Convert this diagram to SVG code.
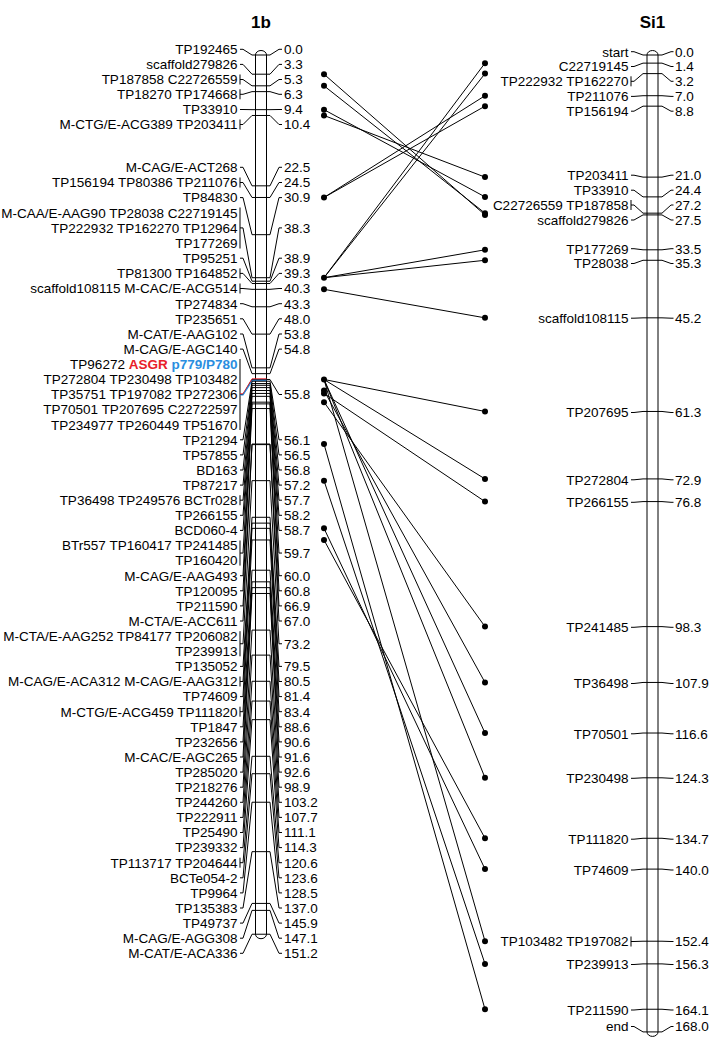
<svg xmlns="http://www.w3.org/2000/svg" width="709" height="1039" viewBox="0 0 709 1039">
<style>
text{font-family:"Liberation Sans",Arial,sans-serif;font-size:13.5px;fill:#000}
.l{text-anchor:end}
.n{text-anchor:start}
.t{font-size:17px;font-weight:bold;text-anchor:middle}
.c{fill:none;stroke:#000;stroke-width:1}
.chr{fill:#fff;stroke:#000;stroke-width:1}
.k{stroke:#000;stroke-width:1}
.d{fill:#000}
</style>
<rect width="709" height="1039" fill="#fff"/>
<g id="map-1b">
<text class="t" x="261" y="28">1b</text>
<path class="chr" d="M255.5,55 L255.5,934.2 A5.5,4.5 0 0 0 266.5,934.2 L266.5,55 A5.5,4.5 0 0 0 255.5,55 Z"/>
<g id="L0"><text class="l" x="237.5" y="54.1">TP192465</text><polyline class="c" points="240,49.3 243,49.3 252,55 270,55 279,49.3 282,49.3"/><text class="n" x="284" y="54.1">0.0</text></g>
<g id="L1"><text class="l" x="237.5" y="69.2">scaffold279826</text><polyline class="c" points="240,64.4 243,64.4 252,74.19 270,74.19 279,64.4 282,64.4"/><text class="n" x="284" y="69.2">3.3</text></g>
<g id="L2"><text class="l" x="237.5" y="84.3">TP187858 C22726559</text><line class="k" x1="240" y1="74.5" x2="240" y2="84.5"/><polyline class="c" points="240,79.5 243,79.5 252,85.82 270,85.82 279,79.5 282,79.5"/><text class="n" x="284" y="84.3">5.3</text></g>
<g id="L3"><text class="l" x="237.5" y="99.1">TP18270 TP174668</text><line class="k" x1="240" y1="89.3" x2="240" y2="99.3"/><polyline class="c" points="240,94.3 243,94.3 252,91.63 270,91.63 279,94.3 282,94.3"/><text class="n" x="284" y="99.1">6.3</text></g>
<g id="L4"><text class="l" x="237.5" y="114.3">TP33910</text><polyline class="c" points="240,109.5 243,109.5 252,109.66 270,109.66 279,109.5 282,109.5"/><text class="n" x="284" y="114.3">9.4</text></g>
<g id="L5"><text class="l" x="237.5" y="129.3">M-CTG/E-ACG389 TP203411</text><line class="k" x1="240" y1="119.5" x2="240" y2="129.5"/><polyline class="c" points="240,124.5 243,124.5 252,115.48 270,115.48 279,124.5 282,124.5"/><text class="n" x="284" y="129.3">10.4</text></g>
<g id="L6"><text class="l" x="237.5" y="172.1">M-CAG/E-ACT268</text><polyline class="c" points="240,167.3 243,167.3 252,185.84 270,185.84 279,167.3 282,167.3"/><text class="n" x="284" y="172.1">22.5</text></g>
<g id="L7"><text class="l" x="237.5" y="187.3">TP156194 TP80386 TP211076</text><line class="k" x1="240" y1="177.5" x2="240" y2="187.5"/><polyline class="c" points="240,182.5 243,182.5 252,197.47 270,197.47 279,182.5 282,182.5"/><text class="n" x="284" y="187.3">24.5</text></g>
<g id="L8"><text class="l" x="237.5" y="202.4">TP84830</text><polyline class="c" points="240,197.6 243,197.6 252,234.68 270,234.68 279,197.6 282,197.6"/><text class="n" x="284" y="202.4">30.9</text></g>
<g id="L9"><text class="l" x="237.5" y="217.6">M-CAA/E-AAG90 TP28038 C22719145</text><text class="l" x="237.5" y="232.7">TP222932 TP162270 TP12964</text><text class="l" x="237.5" y="247.9">TP177269</text><line class="k" x1="240" y1="207.5" x2="240" y2="248.5"/><polyline class="c" points="240,227.9 243,227.9 252,277.71 270,277.71 279,227.9 282,227.9"/><text class="n" x="284" y="232.7">38.3</text></g>
<g id="L10"><text class="l" x="237.5" y="263">TP95251</text><polyline class="c" points="240,258.2 243,258.2 252,281.2 270,281.2 279,258.2 282,258.2"/><text class="n" x="284" y="263">38.9</text></g>
<g id="L11"><text class="l" x="237.5" y="278.2">TP81300 TP164852</text><line class="k" x1="240" y1="268.4" x2="240" y2="278.4"/><polyline class="c" points="240,273.4 243,273.4 252,283.53 270,283.53 279,273.4 282,273.4"/><text class="n" x="284" y="278.2">39.3</text></g>
<g id="L12"><text class="l" x="237.5" y="293.3">scaffold108115 M-CAC/E-ACG514</text><line class="k" x1="240" y1="283.5" x2="240" y2="293.5"/><polyline class="c" points="240,288.5 243,288.5 252,289.34 270,289.34 279,288.5 282,288.5"/><text class="n" x="284" y="293.3">40.3</text></g>
<g id="L13"><text class="l" x="237.5" y="308.5">TP274834</text><polyline class="c" points="240,303.7 243,303.7 252,306.79 270,306.79 279,303.7 282,303.7"/><text class="n" x="284" y="308.5">43.3</text></g>
<g id="L14"><text class="l" x="237.5" y="323.6">TP235651</text><polyline class="c" points="240,318.8 243,318.8 252,334.12 270,334.12 279,318.8 282,318.8"/><text class="n" x="284" y="323.6">48.0</text></g>
<g id="L15"><text class="l" x="237.5" y="338.8">M-CAT/E-AAG102</text><polyline class="c" points="240,334 243,334 252,367.85 270,367.85 279,334 282,334"/><text class="n" x="284" y="338.8">53.8</text></g>
<g id="L16"><text class="l" x="237.5" y="353.9">M-CAG/E-AGC140</text><polyline class="c" points="240,349.1 243,349.1 252,373.66 270,373.66 279,349.1 282,349.1"/><text class="n" x="284" y="353.9">54.8</text></g>
<g id="L17"><text class="l" x="237.5" y="369.1">TP96272 <tspan fill="#e8202a" font-weight="bold">ASGR</tspan> <tspan fill="#2a8ee0" font-weight="bold">p779/P780</tspan></text><text class="l" x="237.5" y="384.2">TP272804 TP230498 TP103482</text><text class="l" x="237.5" y="399.3">TP35751 TP197082 TP272306</text><text class="l" x="237.5" y="414.4">TP70501 TP207695 C22722597</text><text class="l" x="237.5" y="429.5">TP234977 TP260449 TP51670</text><line class="k" x1="240" y1="359" x2="240" y2="430"/><polyline class="c" points="240,394.5 243,394.5 252,379.48 270,379.48 279,394.5 282,394.5"/><polyline fill="none" stroke="#e8202a" stroke-width="1" points="240,393.8 243,393.8 252,378.8 266.5,378.8"/><polyline fill="none" stroke="#2a8ee0" stroke-width="1.2" points="240,395 243,395 252.5,380.4 266.5,380.4"/><text class="n" x="284" y="399.3">55.8</text></g>
<g id="L18"><text class="l" x="237.5" y="444.6">TP21294</text><polyline class="c" points="240,439.8 243,439.8 252,381.22 270,381.22 279,439.8 282,439.8"/><text class="n" x="284" y="444.6">56.1</text></g>
<g id="L19"><text class="l" x="237.5" y="459.7">TP57855</text><polyline class="c" points="240,454.9 243,454.9 252,383.55 270,383.55 279,454.9 282,454.9"/><text class="n" x="284" y="459.7">56.5</text></g>
<g id="L20"><text class="l" x="237.5" y="474.8">BD163</text><polyline class="c" points="240,470 243,470 252,385.29 270,385.29 279,470 282,470"/><text class="n" x="284" y="474.8">56.8</text></g>
<g id="L21"><text class="l" x="237.5" y="489.9">TP87217</text><polyline class="c" points="240,485.1 243,485.1 252,387.62 270,387.62 279,485.1 282,485.1"/><text class="n" x="284" y="489.9">57.2</text></g>
<g id="L22"><text class="l" x="237.5" y="505">TP36498 TP249576 BCTr028</text><line class="k" x1="240" y1="495.2" x2="240" y2="505.2"/><polyline class="c" points="240,500.2 243,500.2 252,390.53 270,390.53 279,500.2 282,500.2"/><text class="n" x="284" y="505">57.7</text></g>
<g id="L23"><text class="l" x="237.5" y="520.1">TP266155</text><polyline class="c" points="240,515.3 243,515.3 252,393.43 270,393.43 279,515.3 282,515.3"/><text class="n" x="284" y="520.1">58.2</text></g>
<g id="L24"><text class="l" x="237.5" y="535.2">BCD060-4</text><polyline class="c" points="240,530.4 243,530.4 252,396.34 270,396.34 279,530.4 282,530.4"/><text class="n" x="284" y="535.2">58.7</text></g>
<g id="L25"><text class="l" x="237.5" y="550.3">BTr557 TP160417 TP241485</text><text class="l" x="237.5" y="565.4">TP160420</text><line class="k" x1="240" y1="540.5" x2="240" y2="565.6"/><polyline class="c" points="240,553.05 243,553.05 252,402.16 270,402.16 279,553.05 282,553.05"/><text class="n" x="284" y="557.85">59.7</text></g>
<g id="L26"><text class="l" x="237.5" y="580.5">M-CAG/E-AAG493</text><polyline class="c" points="240,575.7 243,575.7 252,403.89 270,403.89 279,575.7 282,575.7"/><text class="n" x="284" y="580.5">60.0</text></g>
<g id="L27"><text class="l" x="237.5" y="595.6">TP120095</text><polyline class="c" points="240,590.8 243,590.8 252,408.55 270,408.55 279,590.8 282,590.8"/><text class="n" x="284" y="595.6">60.8</text></g>
<g id="L28"><text class="l" x="237.5" y="610.7">TP211590</text><polyline class="c" points="240,605.9 243,605.9 252,444.02 270,444.02 279,605.9 282,605.9"/><text class="n" x="284" y="610.7">66.9</text></g>
<g id="L29"><text class="l" x="237.5" y="625.8">M-CTA/E-ACC611</text><polyline class="c" points="240,621 243,621 252,444.61 270,444.61 279,621 282,621"/><text class="n" x="284" y="625.8">67.0</text></g>
<g id="L30"><text class="l" x="237.5" y="641">M-CTA/E-AAG252 TP84177 TP206082</text><text class="l" x="237.5" y="656.1">TP239913</text><line class="k" x1="240" y1="631.2" x2="240" y2="656.3"/><polyline class="c" points="240,643.75 243,643.75 252,480.66 270,480.66 279,643.75 282,643.75"/><text class="n" x="284" y="648.55">73.2</text></g>
<g id="L31"><text class="l" x="237.5" y="671.2">TP135052</text><polyline class="c" points="240,666.4 243,666.4 252,517.29 270,517.29 279,666.4 282,666.4"/><text class="n" x="284" y="671.2">79.5</text></g>
<g id="L32"><text class="l" x="237.5" y="686.3">M-CAG/E-ACA312 M-CAG/E-AAG312</text><line class="k" x1="240" y1="676.5" x2="240" y2="686.5"/><polyline class="c" points="240,681.5 243,681.5 252,523.11 270,523.11 279,681.5 282,681.5"/><text class="n" x="284" y="686.3">80.5</text></g>
<g id="L33"><text class="l" x="237.5" y="701.4">TP74609</text><polyline class="c" points="240,696.6 243,696.6 252,528.34 270,528.34 279,696.6 282,696.6"/><text class="n" x="284" y="701.4">81.4</text></g>
<g id="L34"><text class="l" x="237.5" y="716.5">M-CTG/E-ACG459 TP111820</text><line class="k" x1="240" y1="706.7" x2="240" y2="716.7"/><polyline class="c" points="240,711.7 243,711.7 252,539.97 270,539.97 279,711.7 282,711.7"/><text class="n" x="284" y="716.5">83.4</text></g>
<g id="L35"><text class="l" x="237.5" y="731.6">TP1847</text><polyline class="c" points="240,726.8 243,726.8 252,570.21 270,570.21 279,726.8 282,726.8"/><text class="n" x="284" y="731.6">88.6</text></g>
<g id="L36"><text class="l" x="237.5" y="746.7">TP232656</text><polyline class="c" points="240,741.9 243,741.9 252,581.84 270,581.84 279,741.9 282,741.9"/><text class="n" x="284" y="746.7">90.6</text></g>
<g id="L37"><text class="l" x="237.5" y="761.8">M-CAC/E-AGC265</text><polyline class="c" points="240,757 243,757 252,587.65 270,587.65 279,757 282,757"/><text class="n" x="284" y="761.8">91.6</text></g>
<g id="L38"><text class="l" x="237.5" y="776.9">TP285020</text><polyline class="c" points="240,772.1 243,772.1 252,593.47 270,593.47 279,772.1 282,772.1"/><text class="n" x="284" y="776.9">92.6</text></g>
<g id="L39"><text class="l" x="237.5" y="792">TP218276</text><polyline class="c" points="240,787.2 243,787.2 252,630.1 270,630.1 279,787.2 282,787.2"/><text class="n" x="284" y="792">98.9</text></g>
<g id="L40"><text class="l" x="237.5" y="807.1">TP244260</text><polyline class="c" points="240,802.3 243,802.3 252,655.11 270,655.11 279,802.3 282,802.3"/><text class="n" x="284" y="807.1">103.2</text></g>
<g id="L41"><text class="l" x="237.5" y="822.2">TP222911</text><polyline class="c" points="240,817.4 243,817.4 252,681.28 270,681.28 279,817.4 282,817.4"/><text class="n" x="284" y="822.2">107.7</text></g>
<g id="L42"><text class="l" x="237.5" y="837.3">TP25490</text><polyline class="c" points="240,832.5 243,832.5 252,701.05 270,701.05 279,832.5 282,832.5"/><text class="n" x="284" y="837.3">111.1</text></g>
<g id="L43"><text class="l" x="237.5" y="852.4">TP239332</text><polyline class="c" points="240,847.6 243,847.6 252,719.66 270,719.66 279,847.6 282,847.6"/><text class="n" x="284" y="852.4">114.3</text></g>
<g id="L44"><text class="l" x="237.5" y="867.5">TP113717 TP204644</text><line class="k" x1="240" y1="857.7" x2="240" y2="867.7"/><polyline class="c" points="240,862.7 243,862.7 252,756.29 270,756.29 279,862.7 282,862.7"/><text class="n" x="284" y="867.5">120.6</text></g>
<g id="L45"><text class="l" x="237.5" y="882.6">BCTe054-2</text><polyline class="c" points="240,877.8 243,877.8 252,773.73 270,773.73 279,877.8 282,877.8"/><text class="n" x="284" y="882.6">123.6</text></g>
<g id="L46"><text class="l" x="237.5" y="897.7">TP9964</text><polyline class="c" points="240,892.9 243,892.9 252,802.23 270,802.23 279,892.9 282,892.9"/><text class="n" x="284" y="897.7">128.5</text></g>
<g id="L47"><text class="l" x="237.5" y="912.8">TP135383</text><polyline class="c" points="240,908 243,908 252,851.66 270,851.66 279,908 282,908"/><text class="n" x="284" y="912.8">137.0</text></g>
<g id="L48"><text class="l" x="237.5" y="927.9">TP49737</text><polyline class="c" points="240,923.1 243,923.1 252,903.41 270,903.41 279,923.1 282,923.1"/><text class="n" x="284" y="927.9">145.9</text></g>
<g id="L49"><text class="l" x="237.5" y="943">M-CAG/E-AGG308</text><polyline class="c" points="240,938.2 243,938.2 252,910.39 270,910.39 279,938.2 282,938.2"/><text class="n" x="284" y="943">147.1</text></g>
<g id="L50"><text class="l" x="237.5" y="958.1">M-CAT/E-ACA336</text><polyline class="c" points="240,953.3 243,953.3 252,934.23 270,934.23 279,953.3 282,953.3"/><text class="n" x="284" y="958.1">151.2</text></g>
</g>
<g id="map-Si1">
<text class="t" x="652.5" y="28">Si1</text>
<path class="chr" d="M647,55 L647,1031.9 A5.5,4.5 0 0 0 658,1031.9 L658,55 A5.5,4.5 0 0 0 647,55 Z"/>
<g id="R0"><text class="l" x="628.5" y="56.5">start</text><polyline class="c" points="631,51.7 634,51.7 643,55 662,55 671,51.7 673.5,51.7"/><text class="n" x="675" y="56.5">0.0</text></g>
<g id="R1"><text class="l" x="628.5" y="71.3">C22719145</text><polyline class="c" points="631,66.5 634,66.5 643,63.14 662,63.14 671,66.5 673.5,66.5"/><text class="n" x="675" y="71.3">1.4</text></g>
<g id="R2"><text class="l" x="628.5" y="86.1">TP222932 TP162270</text><line class="k" x1="631" y1="76.3" x2="631" y2="86.3"/><polyline class="c" points="631,81.3 634,81.3 643,73.61 662,73.61 671,81.3 673.5,81.3"/><text class="n" x="675" y="86.1">3.2</text></g>
<g id="R3"><text class="l" x="628.5" y="101.2">TP211076</text><polyline class="c" points="631,96.4 634,96.4 643,95.71 662,95.71 671,96.4 673.5,96.4"/><text class="n" x="675" y="101.2">7.0</text></g>
<g id="R4"><text class="l" x="628.5" y="116">TP156194</text><polyline class="c" points="631,111.2 634,111.2 643,106.17 662,106.17 671,111.2 673.5,111.2"/><text class="n" x="675" y="116">8.8</text></g>
<g id="R5"><text class="l" x="628.5" y="180">TP203411</text><polyline class="c" points="631,175.2 634,175.2 643,177.12 662,177.12 671,175.2 673.5,175.2"/><text class="n" x="675" y="180">21.0</text></g>
<g id="R6"><text class="l" x="628.5" y="195">TP33910</text><polyline class="c" points="631,190.2 634,190.2 643,196.89 662,196.89 671,190.2 673.5,190.2"/><text class="n" x="675" y="195">24.4</text></g>
<g id="R7"><text class="l" x="628.5" y="209.8">C22726559 TP187858</text><line class="k" x1="631" y1="200" x2="631" y2="210"/><polyline class="c" points="631,205 634,205 643,213.17 662,213.17 671,205 673.5,205"/><text class="n" x="675" y="209.8">27.2</text></g>
<g id="R8"><text class="l" x="628.5" y="224.8">scaffold279826</text><polyline class="c" points="631,220 634,220 643,214.91 662,214.91 671,220 673.5,220"/><text class="n" x="675" y="224.8">27.5</text></g>
<g id="R9"><text class="l" x="628.5" y="253.5">TP177269</text><polyline class="c" points="631,248.7 634,248.7 643,249.8 662,249.8 671,248.7 673.5,248.7"/><text class="n" x="675" y="253.5">33.5</text></g>
<g id="R10"><text class="l" x="628.5" y="268.3">TP28038</text><polyline class="c" points="631,263.5 634,263.5 643,260.27 662,260.27 671,263.5 673.5,263.5"/><text class="n" x="675" y="268.3">35.3</text></g>
<g id="R11"><text class="l" x="628.5" y="323">scaffold108115</text><polyline class="c" points="631,318.2 634,318.2 643,317.84 662,317.84 671,318.2 673.5,318.2"/><text class="n" x="675" y="323">45.2</text></g>
<g id="R12"><text class="l" x="628.5" y="417.3">TP207695</text><polyline class="c" points="631,412.5 634,412.5 643,411.46 662,411.46 671,412.5 673.5,412.5"/><text class="n" x="675" y="417.3">61.3</text></g>
<g id="R13"><text class="l" x="628.5" y="484.6">TP272804</text><polyline class="c" points="631,479.8 634,479.8 643,478.91 662,478.91 671,479.8 673.5,479.8"/><text class="n" x="675" y="484.6">72.9</text></g>
<g id="R14"><text class="l" x="628.5" y="507.1">TP266155</text><polyline class="c" points="631,502.3 634,502.3 643,501.59 662,501.59 671,502.3 673.5,502.3"/><text class="n" x="675" y="507.1">76.8</text></g>
<g id="R15"><text class="l" x="628.5" y="632.1">TP241485</text><polyline class="c" points="631,627.3 634,627.3 643,626.61 662,626.61 671,627.3 673.5,627.3"/><text class="n" x="675" y="632.1">98.3</text></g>
<g id="R16"><text class="l" x="628.5" y="688.3">TP36498</text><polyline class="c" points="631,683.5 634,683.5 643,682.44 662,682.44 671,683.5 673.5,683.5"/><text class="n" x="675" y="688.3">107.9</text></g>
<g id="R17"><text class="l" x="628.5" y="738.6">TP70501</text><polyline class="c" points="631,733.8 634,733.8 643,733.03 662,733.03 671,733.8 673.5,733.8"/><text class="n" x="675" y="738.6">116.6</text></g>
<g id="R18"><text class="l" x="628.5" y="783.1">TP230498</text><polyline class="c" points="631,778.3 634,778.3 643,777.8 662,777.8 671,778.3 673.5,778.3"/><text class="n" x="675" y="783.1">124.3</text></g>
<g id="R19"><text class="l" x="628.5" y="844">TP111820</text><polyline class="c" points="631,839.2 634,839.2 643,838.28 662,838.28 671,839.2 673.5,839.2"/><text class="n" x="675" y="844">134.7</text></g>
<g id="R20"><text class="l" x="628.5" y="874.8">TP74609</text><polyline class="c" points="631,870 634,870 643,869.1 662,869.1 671,870 673.5,870"/><text class="n" x="675" y="874.8">140.0</text></g>
<g id="R21"><text class="l" x="628.5" y="946.3">TP103482 TP197082</text><line class="k" x1="631" y1="936.5" x2="631" y2="946.5"/><polyline class="c" points="631,941.5 634,941.5 643,941.21 662,941.21 671,941.5 673.5,941.5"/><text class="n" x="675" y="946.3">152.4</text></g>
<g id="R22"><text class="l" x="628.5" y="969.3">TP239913</text><polyline class="c" points="631,964.5 634,964.5 643,963.88 662,963.88 671,964.5 673.5,964.5"/><text class="n" x="675" y="969.3">156.3</text></g>
<g id="R23"><text class="l" x="628.5" y="1014.8">TP211590</text><polyline class="c" points="631,1010 634,1010 643,1009.24 662,1009.24 671,1010 673.5,1010"/><text class="n" x="675" y="1014.8">164.1</text></g>
<g id="R24"><text class="l" x="628.5" y="1031.3">end</text><polyline class="c" points="631,1026.5 634,1026.5 643,1031.92 662,1031.92 671,1026.5 673.5,1026.5"/><text class="n" x="675" y="1031.3">168.0</text></g>
</g>
<g id="links">
<g class="c">
<line x1="324" y1="74.19" x2="485" y2="214.91"/>
<line x1="324" y1="85.82" x2="485" y2="213.17"/>
<line x1="324" y1="109.66" x2="485" y2="196.89"/>
<line x1="324" y1="115.48" x2="485" y2="177.12"/>
<line x1="324" y1="197.47" x2="485" y2="106.17"/>
<line x1="324" y1="197.47" x2="485" y2="95.71"/>
<line x1="324" y1="277.71" x2="485" y2="63.14"/>
<line x1="324" y1="277.71" x2="485" y2="73.61"/>
<line x1="324" y1="277.71" x2="485" y2="249.8"/>
<line x1="324" y1="277.71" x2="485" y2="260.27"/>
<line x1="324" y1="289.34" x2="485" y2="317.84"/>
<line x1="324" y1="379.48" x2="485" y2="411.46"/>
<line x1="324" y1="379.48" x2="485" y2="478.91"/>
<line x1="324" y1="379.48" x2="485" y2="733.03"/>
<line x1="324" y1="379.48" x2="485" y2="777.8"/>
<line x1="324" y1="379.48" x2="485" y2="941.21"/>
<line x1="324" y1="390.53" x2="485" y2="682.44"/>
<line x1="324" y1="393.43" x2="485" y2="501.59"/>
<line x1="324" y1="402.16" x2="485" y2="626.61"/>
<line x1="324" y1="444.02" x2="485" y2="1009.24"/>
<line x1="324" y1="480.66" x2="485" y2="963.88"/>
<line x1="324" y1="528.34" x2="485" y2="869.1"/>
<line x1="324" y1="539.97" x2="485" y2="838.28"/>
</g>
<g class="d">
<circle cx="324" cy="74.19" r="3"/><circle cx="324" cy="85.82" r="3"/><circle cx="324" cy="109.66" r="3"/><circle cx="324" cy="115.48" r="3"/><circle cx="324" cy="197.47" r="3"/><circle cx="324" cy="277.71" r="3"/><circle cx="324" cy="289.34" r="3"/><circle cx="324" cy="379.48" r="3"/><circle cx="324" cy="390.53" r="3"/><circle cx="324" cy="393.43" r="3"/><circle cx="324" cy="402.16" r="3"/><circle cx="324" cy="444.02" r="3"/><circle cx="324" cy="480.66" r="3"/><circle cx="324" cy="528.34" r="3"/><circle cx="324" cy="539.97" r="3"/>
<circle cx="485" cy="63.14" r="3"/><circle cx="485" cy="73.61" r="3"/><circle cx="485" cy="95.71" r="3"/><circle cx="485" cy="106.17" r="3"/><circle cx="485" cy="177.12" r="3"/><circle cx="485" cy="196.89" r="3"/><circle cx="485" cy="213.17" r="3"/><circle cx="485" cy="214.91" r="3"/><circle cx="485" cy="249.8" r="3"/><circle cx="485" cy="260.27" r="3"/><circle cx="485" cy="317.84" r="3"/><circle cx="485" cy="411.46" r="3"/><circle cx="485" cy="478.91" r="3"/><circle cx="485" cy="501.59" r="3"/><circle cx="485" cy="626.61" r="3"/><circle cx="485" cy="682.44" r="3"/><circle cx="485" cy="733.03" r="3"/><circle cx="485" cy="777.8" r="3"/><circle cx="485" cy="838.28" r="3"/><circle cx="485" cy="869.1" r="3"/><circle cx="485" cy="941.21" r="3"/><circle cx="485" cy="963.88" r="3"/><circle cx="485" cy="1009.24" r="3"/>
</g>
</g>
</svg>
